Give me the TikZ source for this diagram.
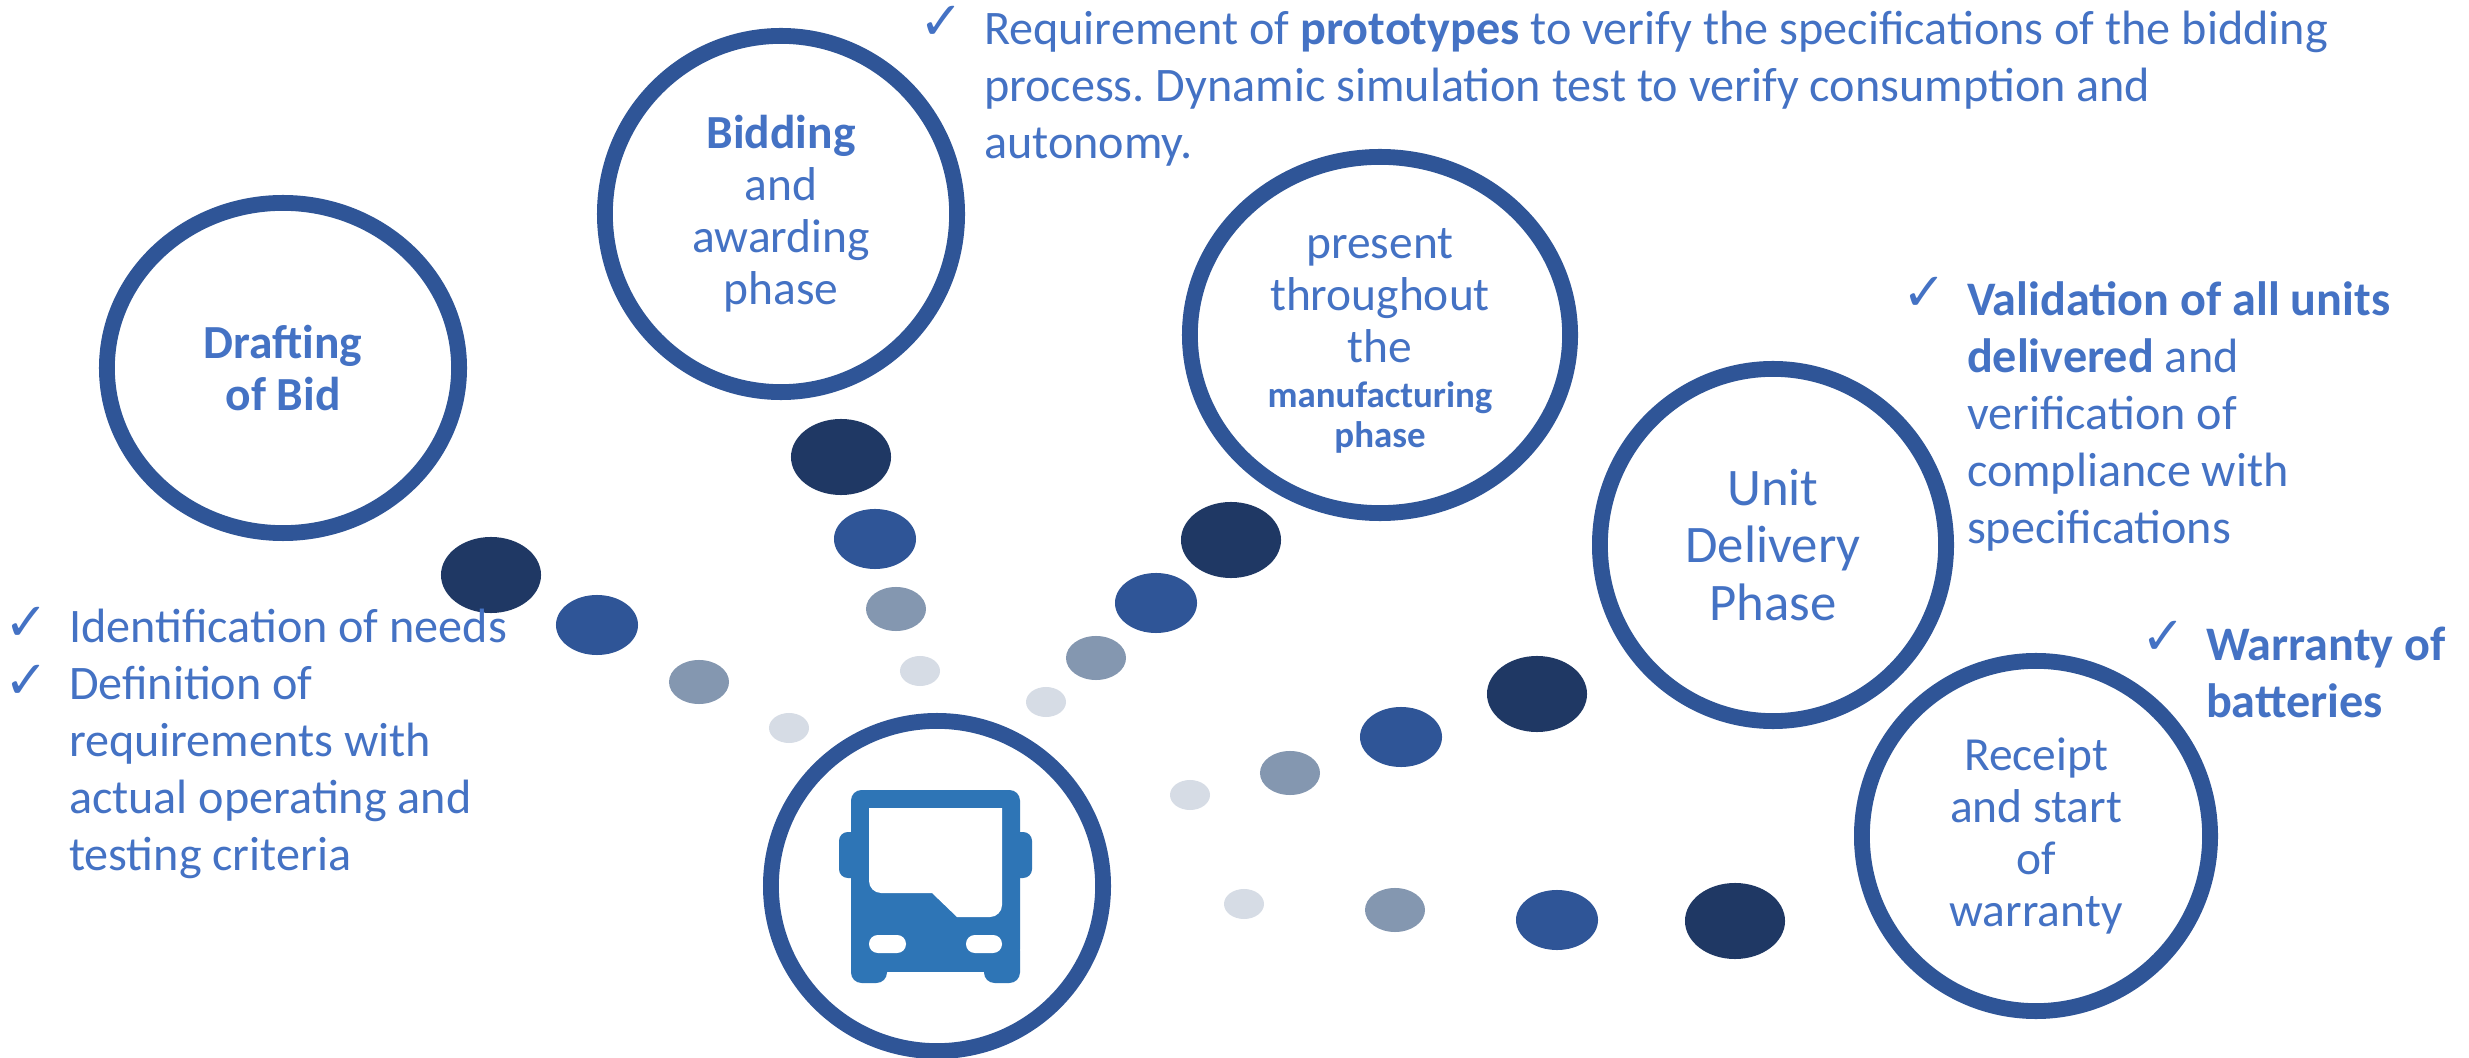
\documentclass[tikz,border=0pt]{standalone}
\usepackage{fontspec}
\setmainfont{Carlito}
\newfontfamily\chkfont{DejaVu Sans}
\usepackage{tikz}
\usetikzlibrary{shapes.geometric}
\definecolor{ringblue}{HTML}{2F5597}
\definecolor{darkblue}{HTML}{1F3864}
\definecolor{grayblue}{HTML}{8497B0}
\definecolor{paleblue}{HTML}{D6DCE5}
\definecolor{textblue}{HTML}{4472C4}
\definecolor{busblue}{HTML}{2E75B6}
\begin{document}
\begin{tikzpicture}[x=0.01cm, y=-0.01cm, outer sep=0pt]
  \newcommand{\bodyfont}{\frenchspacing\fontsize{13.7}{16.2}\selectfont}
  \newcommand{\ringfont}{\fontsize{13.5}{14.8}\selectfont}
  \newcommand{\smallfont}{\fontsize{10.5}{11.4}\selectfont}

  \tikzstyle{ring}=[
    draw=ringblue,
    line width=4.5pt,
    ellipse,
    fill=white,
    inner sep=0pt,
    align=center,
    text=textblue,
    font=\ringfont
  ]
  \tikzstyle{dotdark}=[ellipse, fill=darkblue, inner sep=0pt, minimum width=1cm, minimum height=0.76cm]
  \tikzstyle{dotmid}=[ellipse, fill=ringblue, inner sep=0pt, minimum width=0.82cm, minimum height=0.6cm]
  \tikzstyle{dotgray}=[ellipse, fill=grayblue, inner sep=0pt, minimum width=0.6cm, minimum height=0.44cm]
  \tikzstyle{dotpale}=[ellipse, fill=paleblue, inner sep=0pt, minimum width=0.4cm, minimum height=0.3cm]
  \tikzstyle{chk}=[text=textblue, font=\chkfont\fontsize{15}{17}\selectfont, inner sep=0pt]
  \tikzstyle{listtext}=[text=textblue, font=\bodyfont, align=left, anchor=north west, inner sep=0pt]

  \useasboundingbox (0,0) rectangle (2469,1058);

  % phases
  \node[ring, minimum width=3.52cm, minimum height=3.30cm] (drafting) at (283,368) {\textbf{Drafting}\\\textbf{of Bid}};
  \node[ring, minimum width=3.52cm, minimum height=3.56cm] (bidding) at (781,214) {\textbf{Bidding}\\and\\awarding\\phase};
  \node[ring, minimum width=3.80cm, minimum height=3.56cm] (present) at (1380,335) {};
  \node[text=textblue, font=\ringfont, align=center, anchor=north, inner sep=0pt] (presenttext) at (1380,228) {present\\throughout\\the\\[-1.8pt]\smallfont\textbf{manufacturing}\\[-3.6pt]\smallfont\textbf{phase}};
  \node[ring, minimum width=3.46cm, minimum height=3.52cm, font=\fontsize{15}{16.3}\selectfont] (unit) at (1773,545) {Unit\\Delivery\\Phase};
  \node[ring, minimum width=3.48cm, minimum height=3.50cm] (receipt) at (2036,836) {Receipt\\and start\\of\\warranty};
  \node[ring, minimum width=3.32cm, minimum height=3.30cm] (busring) at (937,886) {};

  % dots
  \foreach \nam/\sty/\px/\py in {
    a1/dotdark/491/575, a2/dotmid/597/625, a3/dotgray/699/682, a4/dotpale/789/728,
    b1/dotdark/841/457, b2/dotmid/875/539, b3/dotgray/896/609, b4/dotpale/920/671,
    c1/dotdark/1231/540, c2/dotmid/1156/603, c3/dotgray/1096/658, c4/dotpale/1046/702,
    d1/dotdark/1537/694, d2/dotmid/1401/737, d3/dotgray/1290/773, d4/dotpale/1190/795,
    e1/dotdark/1735/921, e2/dotmid/1557/920, e3/dotgray/1395/910, e4/dotpale/1244/904}
    \node[\sty] (\nam) at (\px,\py) {};

  % bus
  \fill[busblue, rounded corners=2.5pt] (839,832) rectangle (1032,878);
  \fill[busblue, rounded corners=3pt] (851,790) rectangle (1020,960);
  \fill[busblue] (851,850) rectangle (1020,972);
  \fill[busblue, rounded corners=3pt] (851,940) rectangle (887,983);
  \fill[busblue, rounded corners=3pt] (984,940) rectangle (1020,983);
  \fill[white] (869,808) -- (1002,808) -- (1002,905) arc[start angle=0, end angle=90, radius=12] -- (957,917) -- (932,893) -- (881,893) arc[start angle=90, end angle=180, radius=12] -- cycle;
  \fill[white, rounded corners=2.5pt] (869,935) rectangle (906,953);
  \fill[white, rounded corners=2.5pt] (966,935) rectangle (1002,953);

  % lists
  \node[chk] (chka) at (27,624) {✓};
  \node[chk] (chkb) at (27,682) {✓};
  \node[listtext] (needs) at (69,609) {Identification of needs};
  \node[listtext] (reqs) at (69,666) {Definition of\\requirements with\\actual operating and\\testing criteria};
  \node[chk] (chkc) at (942,23) {✓};
  \node[listtext] (proto) at (984,11) {Requirement of \textbf{prototypes} to verify the specifications of the bidding\\process. Dynamic simulation test to verify consumption and\\autonomy.};
  \node[chk] (chkd) at (1925,294) {✓};
  \node[listtext] (valid) at (1967,282) {\textbf{Validation of all units}\\\textbf{delivered} and\\verification of\\compliance with\\specifications};
  \node[chk] (chke) at (2164,638) {✓};
  \node[listtext] (warr) at (2206,627) {\textbf{Warranty of}\\\textbf{batteries}};
\end{tikzpicture}
\end{document}
